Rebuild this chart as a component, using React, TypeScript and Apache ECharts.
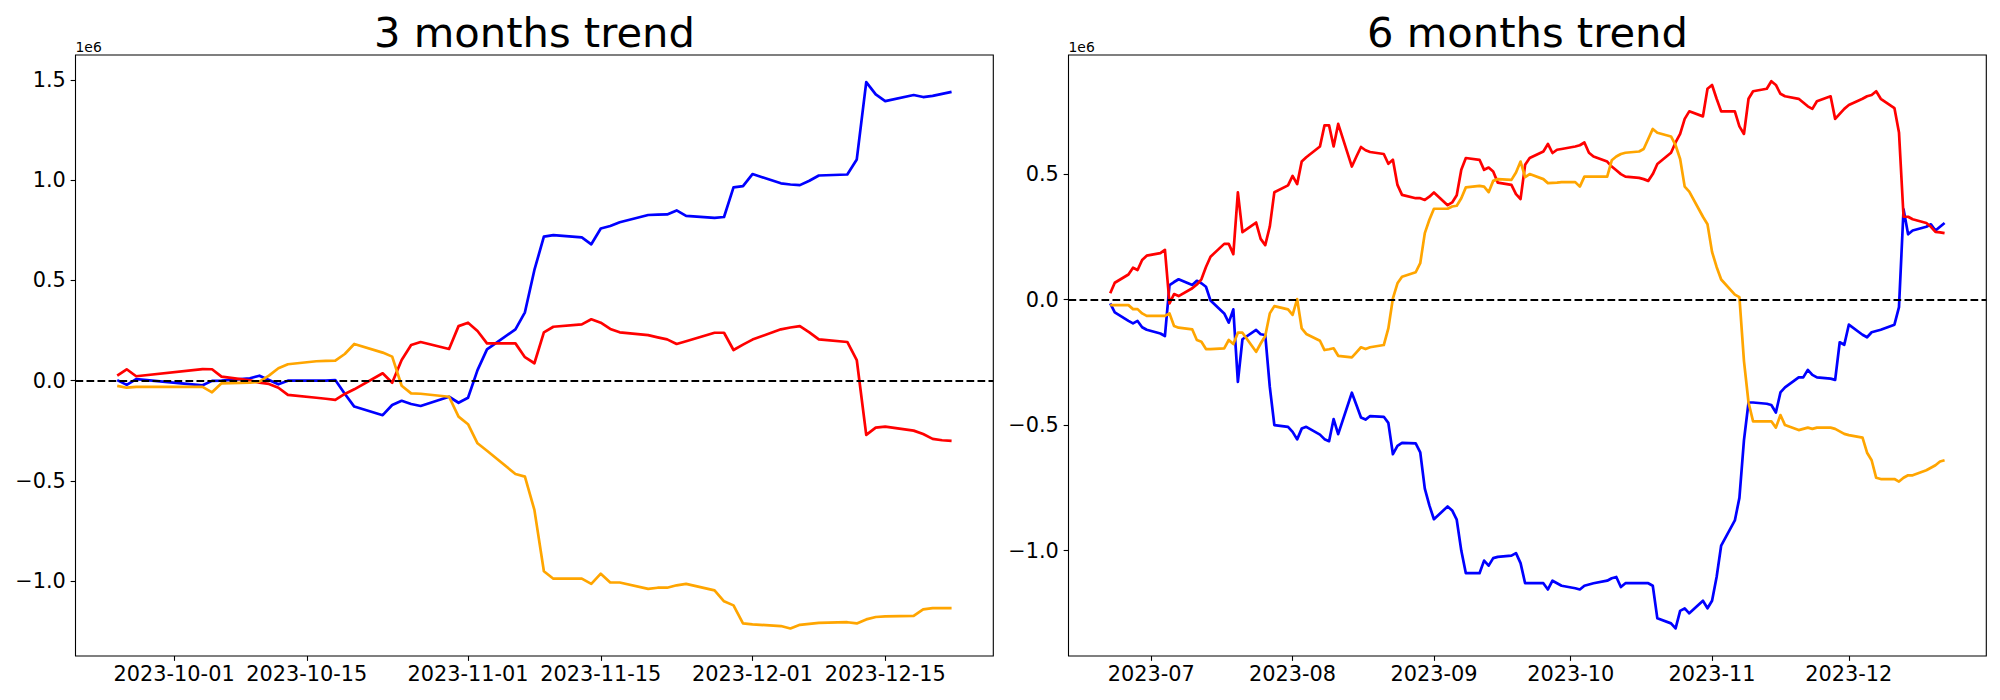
import React, { useEffect, useRef } from "react";
import * as echarts from "echarts";

// ---------------- 3 months data (values in units of 1e6) ----------------
const leftDates = [
  "2023-09-25", "2023-09-26", "2023-09-27",
  "2023-10-04", "2023-10-05", "2023-10-06", "2023-10-09", "2023-10-10", "2023-10-11", "2023-10-12", "2023-10-13",
  "2023-10-16", "2023-10-17", "2023-10-18", "2023-10-19", "2023-10-20", "2023-10-23", "2023-10-24", "2023-10-25",
  "2023-10-26", "2023-10-27", "2023-10-30", "2023-10-31",
  "2023-11-01", "2023-11-02", "2023-11-03", "2023-11-06", "2023-11-07", "2023-11-08", "2023-11-09", "2023-11-10",
  "2023-11-13", "2023-11-14", "2023-11-15", "2023-11-16", "2023-11-17", "2023-11-20", "2023-11-21", "2023-11-22",
  "2023-11-23", "2023-11-24", "2023-11-27", "2023-11-28", "2023-11-29", "2023-11-30",
  "2023-12-01", "2023-12-04", "2023-12-05", "2023-12-06", "2023-12-07", "2023-12-08", "2023-12-11", "2023-12-12",
  "2023-12-13", "2023-12-14", "2023-12-15", "2023-12-18", "2023-12-19", "2023-12-20", "2023-12-21", "2023-12-22",
];
const leftBlue = [
  0.003, -0.021, 0.008,
  -0.023, -0.001, 0.0, 0.012, 0.025, 0.003, -0.018, 0.0,
  0.0, 0.0, 0.003, -0.065, -0.129, -0.172, -0.121, -0.1,
  -0.116, -0.126, -0.08, -0.11,
  -0.085, 0.053, 0.156, 0.256, 0.341, 0.552, 0.718, 0.726,
  0.714, 0.68, 0.759, 0.771, 0.79, 0.826, 0.828, 0.829,
  0.849, 0.822, 0.812, 0.816, 0.964, 0.97,
  1.03, 0.984, 0.978, 0.975, 0.997, 1.023, 1.028, 1.103,
  1.488, 1.427, 1.394, 1.424, 1.414, 1.42, 1.43, 1.44,
];
const leftRed = [
  0.025, 0.057, 0.022,
  0.058, 0.057, 0.02, 0.002, -0.01, -0.016, -0.035, -0.071,
  -0.085, -0.09, -0.096, -0.066, -0.043, 0.037, -0.01, 0.103,
  0.178, 0.193, 0.158, 0.272,
  0.289, 0.248, 0.186, 0.186, 0.117, 0.087, 0.241, 0.269,
  0.281, 0.306, 0.289, 0.258, 0.241, 0.227, 0.216, 0.206,
  0.183, 0.197, 0.239, 0.239, 0.153, 0.18,
  0.205, 0.256, 0.265, 0.272, 0.241, 0.206, 0.193, 0.103,
  -0.27, -0.234, -0.229, -0.249, -0.266, -0.29, -0.297, -0.3,
];
const leftOrange = [
  -0.026, -0.035, -0.031,
  -0.031, -0.058, -0.013, -0.01, -0.005, 0.025, 0.062, 0.082,
  0.097, 0.099, 0.1, 0.133, 0.183, 0.14, 0.12, -0.025,
  -0.063, -0.065, -0.08, -0.179,
  -0.217, -0.312, -0.349, -0.465, -0.478, -0.644, -0.95, -0.987,
  -0.987, -1.013, -0.962, -1.006, -1.006, -1.038, -1.032, -1.032,
  -1.02, -1.013, -1.045, -1.1, -1.12, -1.21,
  -1.215, -1.223, -1.235, -1.217, -1.212, -1.207, -1.204, -1.21,
  -1.19, -1.178, -1.175, -1.172, -1.14, -1.134, -1.134, -1.134,
];
const leftTickDates = ["2023-10-01", "2023-10-15", "2023-11-01", "2023-11-15", "2023-12-01", "2023-12-15"];
const leftTickLabels = ["2023-10-01", "2023-10-15", "2023-11-01", "2023-11-15", "2023-12-01", "2023-12-15"];
const leftYTicks = [-1.0, -0.5, 0.0, 0.5, 1.0, 1.5];
const leftYRange = [-1.3724, 1.6236];

// ---------------- 6 months data (values in units of 1e6) ----------------
const rightMonths: [string, number[]][] = [
  ["2023-06", [22, 23, 26, 27, 28, 29, 30]],
  ["2023-07", [3, 4, 5, 6, 7, 10, 11, 12, 13, 14, 17, 18, 19, 20, 21, 24, 25, 26, 27, 28, 31]],
  ["2023-08", [1, 2, 3, 4, 7, 8, 9, 10, 11, 14, 15, 16, 17, 18, 21, 22, 23, 24, 25, 28, 29, 30, 31]],
  ["2023-09", [1, 4, 5, 6, 7, 8, 11, 12, 13, 14, 15, 18, 19, 20, 21, 22, 25, 26, 27, 28, 29]],
  ["2023-10", [2, 3, 4, 5, 6, 9, 10, 11, 12, 13, 16, 17, 18, 19, 20, 23, 24, 25, 26, 27, 30, 31]],
  ["2023-11", [1, 2, 3, 6, 7, 8, 9, 10, 13, 14, 15, 16, 17, 20, 21, 22, 23, 24, 27, 28, 29, 30]],
  ["2023-12", [1, 4, 5, 6, 7, 8, 11, 12, 13, 14, 15, 18, 19, 20, 21, 22]],
];
const rightRed = [
  0.025, 0.067, 0.1, 0.127, 0.118, 0.158, 0.175,
  0.185, 0.198, -0.015, 0.022, 0.014, 0.045, 0.06, 0.081, 0.13, 0.171, 0.222, 0.222, 0.181, 0.427, 0.269, 0.307, 0.242, 0.217, 0.291, 0.428, 0.455,
  0.493, 0.46, 0.55, 0.567, 0.61, 0.694, 0.694, 0.61, 0.7, 0.53, 0.57, 0.608, 0.595, 0.588, 0.58, 0.541, 0.557, 0.457, 0.417, 0.404, 0.404, 0.397, 0.41,
  0.427, 0.376, 0.387, 0.416, 0.517, 0.564, 0.557, 0.517, 0.526, 0.51, 0.466, 0.457, 0.42, 0.401, 0.537, 0.564, 0.59, 0.62, 0.584, 0.597, 0.6,
  0.61, 0.615, 0.626, 0.585, 0.57, 0.55, 0.53, 0.515, 0.5, 0.49, 0.485, 0.48, 0.473, 0.5, 0.54, 0.585, 0.626, 0.66, 0.72, 0.75, 0.73, 0.84,
  0.855, 0.8, 0.75, 0.75, 0.69, 0.66, 0.8, 0.83, 0.84, 0.87, 0.855, 0.82, 0.81, 0.8, 0.785, 0.77, 0.76, 0.79, 0.81, 0.72, 0.74, 0.76,
  0.775, 0.8, 0.81, 0.815, 0.83, 0.8, 0.763, 0.666, 0.33, 0.33, 0.32, 0.305, 0.29, 0.27, 0.268, 0.265,
];
const rightBlue = [
  -0.015, -0.051, -0.085, -0.095, -0.085, -0.11, -0.12,
  -0.135, -0.145, 0.058, 0.07, 0.081, 0.058, 0.075, 0.065, 0.051, -0.004, -0.055, -0.092, -0.039, -0.328, -0.158, -0.121, -0.138, -0.141, -0.348, -0.5, -0.507,
  -0.527, -0.557, -0.514, -0.507, -0.538, -0.556, -0.564, -0.476, -0.536, -0.371, -0.42, -0.47, -0.478, -0.464, -0.467, -0.491, -0.616, -0.583, -0.571, -0.573, -0.609, -0.753, -0.82,
  -0.875, -0.824, -0.84, -0.877, -1.0, -1.09, -1.09, -1.04, -1.06, -1.03, -1.025, -1.02, -1.01, -1.05, -1.13, -1.13, -1.13, -1.155, -1.12, -1.13, -1.14,
  -1.15, -1.155, -1.14, -1.135, -1.13, -1.12, -1.11, -1.105, -1.145, -1.13, -1.13, -1.13, -1.13, -1.14, -1.27, -1.29, -1.31, -1.24, -1.23, -1.25, -1.2, -1.23,
  -1.2, -1.105, -0.98, -0.88, -0.79, -0.56, -0.41, -0.41, -0.415, -0.42, -0.45, -0.37, -0.35, -0.31, -0.31, -0.28, -0.3, -0.31, -0.315, -0.32, -0.17, -0.18,
  -0.1, -0.14, -0.15, -0.13, -0.125, -0.12, -0.1, -0.03, 0.36, 0.26, 0.275, 0.29, 0.3, 0.275, 0.29, 0.305,
];
const rightOrange = [
  -0.022, -0.022, -0.022, -0.038, -0.038, -0.055, -0.065,
  -0.065, -0.065, -0.055, -0.105, -0.112, -0.119, -0.161, -0.168, -0.197, -0.197, -0.194, -0.161, -0.177, -0.132, -0.132, -0.208, -0.175, -0.145, -0.055, -0.026, -0.039,
  -0.061, 0.002, -0.115, -0.137, -0.164, -0.201, -0.198, -0.194, -0.224, -0.23, -0.21, -0.19, -0.197, -0.19, -0.181, -0.115, 0.005, 0.065, 0.091, 0.109, 0.145, 0.265, 0.318,
  0.362, 0.362, 0.371, 0.374, 0.404, 0.447, 0.453, 0.45, 0.428, 0.473, 0.48, 0.477, 0.506, 0.55, 0.488, 0.5, 0.48, 0.464, 0.465, 0.466, 0.468,
  0.468, 0.45, 0.49, 0.49, 0.49, 0.49, 0.555, 0.57, 0.58, 0.585, 0.59, 0.6, 0.64, 0.68, 0.665, 0.65, 0.615, 0.56, 0.45, 0.43, 0.33, 0.3,
  0.19, 0.13, 0.08, 0.02, 0.01, -0.245, -0.41, -0.485, -0.485, -0.485, -0.51, -0.46, -0.5, -0.52, -0.515, -0.51, -0.515, -0.51, -0.51, -0.515, -0.525, -0.535,
  -0.54, -0.55, -0.61, -0.64, -0.71, -0.715, -0.715, -0.725, -0.71, -0.7, -0.7, -0.68, -0.67, -0.66, -0.645, -0.64,
];
const rightTickDates = ["2023-07-01", "2023-08-01", "2023-09-01", "2023-10-01", "2023-11-01", "2023-12-01"];
const rightTickLabels = ["2023-07", "2023-08", "2023-09", "2023-10", "2023-11", "2023-12"];
const rightYTicks = [-1.0, -0.5, 0.0, 0.5];
const rightYRange = [-1.42, 0.9745];

const titles = ["3 months trend", "6 months trend"];
const offsetLabel = "1e6";

// ---------------- helpers ----------------
const ts = (d: string) => Date.parse(d + "T00:00:00Z");
const rightDates: string[] = rightMonths.flatMap(([m, days]) =>
  days.map((d) => `${m}-${String(d).padStart(2, "0")}`)
);

const FONT = "DejaVu Sans";
const TICK_FS = 20.83;
const AX_LEFT = [75.5, 1068.5];
const AX_TOP = 55;
const AX_W = 917.8;
const AX_H = 601;

function xLimits(dates: string[]) {
  const a = ts(dates[0]);
  const b = ts(dates[dates.length - 1]);
  const m = (b - a) * 0.05;
  return [a - m, b + m];
}

const yFmt = (v: number) => (v < 0 ? "\u2212" : "") + Math.abs(v).toFixed(1);

function makeX(gridIndex: number, dates: string[], tickDates: string[], tickLabels: string[]) {
  const [min, max] = xLimits(dates);
  const tv = tickDates.map(ts);
  return {
    type: "value",
    gridIndex,
    min,
    max,
    position: "bottom",
    axisLine: { show: false, onZero: false },
    axisTick: { show: true, length: 4.86, lineStyle: { color: "#000", width: 1.1 }, customValues: tv },
    axisLabel: {
      show: true,
      customValues: tv,
      formatter: (v: number) => {
        const i = tv.indexOf(v);
        return i >= 0 ? tickLabels[i] : "";
      },
      fontSize: TICK_FS,
      fontFamily: FONT,
      color: "#000",
      margin: 7.9,
      hideOverlap: false,
    },
    splitLine: { show: false },
  };
}

function makeY(gridIndex: number, range: number[], ticks: number[]) {
  return {
    type: "value",
    gridIndex,
    min: range[0],
    max: range[1],
    position: "left",
    axisLine: { show: false, onZero: false },
    axisTick: { show: true, length: 4.86, lineStyle: { color: "#000", width: 1.1 }, customValues: ticks },
    axisLabel: {
      show: true,
      customValues: ticks,
      formatter: yFmt,
      fontSize: TICK_FS,
      fontFamily: FONT,
      color: "#000",
      margin: 9.7,
    },
    splitLine: { show: false },
  };
}

function lineSeries(idx: number, dates: string[], vals: number[], color: string, withZero: boolean) {
  const s: any = {
    type: "line",
    xAxisIndex: idx,
    yAxisIndex: idx,
    data: dates.map((d, i) => [ts(d), vals[i]]),
    showSymbol: false,
    symbol: "none",
    lineStyle: { color, width: 2.7, join: "round", cap: "butt" },
    itemStyle: { color },
    emphasis: { disabled: true },
    silent: true,
  };
  if (withZero) {
    s.markLine = {
      silent: true,
      symbol: ["none", "none"],
      label: { show: false },
      z: 10,
      lineStyle: { color: "#000", type: [7.7, 3.3], width: 2.1 },
      emphasis: { disabled: true },
      data: [{ yAxis: 0 }],
    };
  }
  return s;
}

function textEl(x: number, y: number, text: string, size: number, align: string) {
  return {
    type: "text",
    x,
    y,
    silent: true,
    style: {
      text,
      fontSize: size,
      fontFamily: FONT,
      fill: "#000",
      align,
      textAlign: align,
      verticalAlign: "middle",
      textVerticalAlign: "middle",
    },
  };
}

export default function App() {
  const ref = useRef<HTMLDivElement>(null);
  useEffect(() => {
    if (!ref.current) return;
    const chart = echarts.init(ref.current, undefined, { renderer: "svg" });
    const option: any = {
      animation: false,
      backgroundColor: "#fff",
      grid: AX_LEFT.map((l) => ({
        left: l,
        top: AX_TOP,
        width: AX_W,
        height: AX_H,
        show: true,
        borderColor: "#000",
        borderWidth: 1.1,
        backgroundColor: "transparent",
        containLabel: false,
      })),
      xAxis: [
        makeX(0, leftDates, leftTickDates, leftTickLabels),
        makeX(1, rightDates, rightTickDates, rightTickLabels),
      ],
      yAxis: [makeY(0, leftYRange, leftYTicks), makeY(1, rightYRange, rightYTicks)],
      series: [
        lineSeries(0, leftDates, leftBlue, "#0000ff", false),
        lineSeries(0, leftDates, leftRed, "#ff0000", false),
        lineSeries(0, leftDates, leftOrange, "#ffa500", true),
        lineSeries(1, rightDates, rightBlue, "#0000ff", false),
        lineSeries(1, rightDates, rightRed, "#ff0000", false),
        lineSeries(1, rightDates, rightOrange, "#ffa500", true),
      ],
      graphic: [
        textEl(AX_LEFT[0] + AX_W / 2, 32.3, titles[0], 41.67, "center"),
        textEl(AX_LEFT[1] + AX_W / 2, 32.3, titles[1], 41.67, "center"),
        textEl(AX_LEFT[0], 46.9, offsetLabel, 13.9, "left"),
        textEl(AX_LEFT[1], 46.9, offsetLabel, 13.9, "left"),
      ],
    };
    chart.setOption(option);
    return () => chart.dispose();
  }, []);
  return (
    <div
      ref={ref}
      style={{ position: "absolute", left: 0, top: 0, width: "2000px", height: "700px", background: "#fff" }}
    />
  );
}
